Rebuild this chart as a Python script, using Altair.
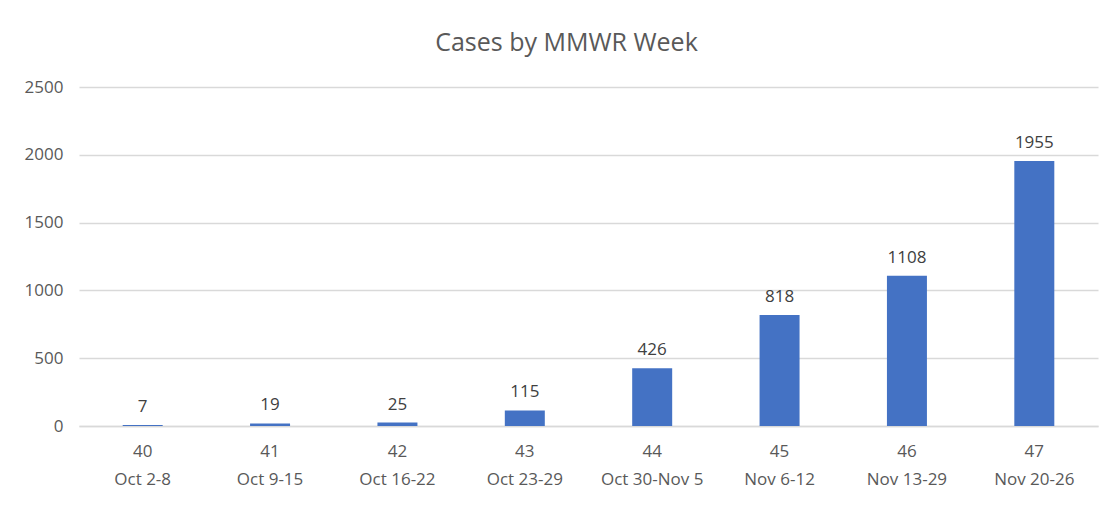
import altair as alt
import pandas as pd

weeks = ["40", "41", "42", "43", "44", "45", "46", "47"]
dates = ["Oct 2-8", "Oct 9-15", "Oct 16-22", "Oct 23-29", "Oct 30-Nov 5",
         "Nov 6-12", "Nov 13-29", "Nov 20-26"]
cases = [7, 19, 25, 115, 426, 818, 1108, 1955]

df = pd.DataFrame({
    "lab": [f"{w}|{d}" for w, d in zip(weeks, dates)],
    "cases": cases,
})

FONT = "Open Sans"
GREY = "#595959"

x = alt.X("lab:N", sort=None, title=None,
          scale=alt.Scale(paddingInner=0.686, paddingOuter=0.343),
          axis=alt.Axis(labelExpr="split(datum.value, '|')", labelAngle=0,
                        labelFont=FONT, labelFontSize=17, labelColor=GREY,
                        labelLineHeight=28, labelPadding=17, ticks=False,
                        grid=False, domain=True, domainColor="#d9d9d9",
                        domainWidth=1.5))
y = alt.Y("cases:Q", title=None,
          scale=alt.Scale(domain=[0, 2500]),
          axis=alt.Axis(values=[0, 500, 1000, 1500, 2000, 2500], ticks=False,
                        format="d", domain=False, gridColor="#d9d9d9",
                        gridWidth=1.5, labelFont=FONT, labelFontSize=17,
                        labelColor=GREY, labelPadding=16))

base = alt.Chart(df)
bars = base.mark_bar(color="#4472C4").encode(x=x, y=y)
labels = base.mark_text(baseline="bottom", dy=-9, font=FONT, fontSize=17,
                        color="#404040").encode(x=x, y=y, text="cases:Q")

chart = (bars + labels).properties(
    width=1019, height=339,
    title=alt.TitleParams("Cases by MMWR Week", font=FONT, fontSize=25,
                          fontWeight="normal", color=GREY, offset=22, dx=-22),
    padding={"left": 16, "top": 23, "right": 6, "bottom": 8},
).configure(background="white").configure_view(stroke=None, strokeWidth=0)

chart.save("out.html", embed_options={"renderer": "svg", "actions": False})
